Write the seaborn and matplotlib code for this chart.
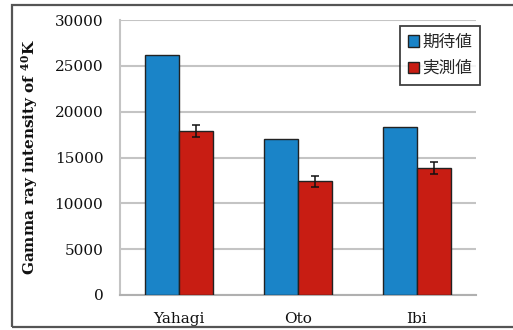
import matplotlib
matplotlib.use("Agg")
import matplotlib.pyplot as plt
from matplotlib.patches import Rectangle
import numpy as np
import pandas as pd
import seaborn as sns

# Data
rivers = ["Yahagi", "Oto", "Ibi"]
series = ["期待値", "実測値"]
expected = [26200, 17000, 18350]
measured = [17900, 12400, 13850]
measured_err = [650, 600, 650]
yticks = [0, 5000, 10000, 15000, 20000, 25000, 30000]

colors = ["#1a84c8", "#c81d13"]

sns.set_theme(style="white")
plt.rcParams["font.family"] = ["DejaVu Serif"]
plt.rcParams["mathtext.fontset"] = "dejavuserif"

df = pd.DataFrame({
    "river": rivers * 2,
    "kind": [series[0]] * 3 + [series[1]] * 3,
    "value": expected + measured,
})

fig = plt.figure(figsize=(5.13, 3.30), dpi=100)
ax = fig.add_axes([120 / 513, 1 - 295 / 330, 356 / 513, 275 / 330])

sns.barplot(data=df, x="river", y="value", hue="kind", order=rivers,
            hue_order=series, palette=colors, width=0.572, gap=0,
            errorbar=None, edgecolor="#222222", linewidth=1.0, saturation=1,
            ax=ax, zorder=3)

# error bars on the measured series
meas_bars = ax.containers[1]
xc = [b.get_x() + b.get_width() / 2 for b in meas_bars]
ax.errorbar(xc, measured, yerr=measured_err, fmt="none", ecolor="#111111",
            elinewidth=1.1, capsize=3.2, capthick=1.1, zorder=4)

ax.set_xlim(-0.5, 2.5)
ax.set_ylim(0, 30000)
ax.set_yticks(yticks)
ax.set_yticklabels([str(v) for v in yticks])
ax.yaxis.grid(True, color="#c4c4c4", linewidth=1.5, zorder=0)
ax.set_axisbelow(True)
ax.tick_params(axis="y", length=0, pad=12, labelsize=11, colors="#111111")
ax.tick_params(axis="x", length=0, pad=12, labelsize=11, colors="#111111")
ax.set_xlabel("")
ax.set_ylabel(r"Gamma ray intensity of $^{\mathbf{40}}$K", fontsize=11,
              fontweight="bold", color="#111111")
ax.yaxis.set_label_coords(-0.226, 0.5)

for side in ["top", "right"]:
    ax.spines[side].set_visible(False)
ax.spines["left"].set_color("#c4c4c4")
ax.spines["left"].set_linewidth(1.5)
ax.spines["bottom"].set_color("#b0b0b0")
ax.spines["bottom"].set_linewidth(1.5)

leg = ax.legend(loc="upper right", bbox_to_anchor=(1.012, 0.98),
                prop={"family": ["Noto Sans CJK JP"], "size": 12},
                frameon=True, fancybox=False, edgecolor="#111111",
                handlelength=0.65, handleheight=0.65, handletextpad=0.2,
                borderpad=0.5, labelspacing=0.55, borderaxespad=0)
leg.get_frame().set_linewidth(1.3)
for h in leg.legend_handles:
    h.set_edgecolor("#222222")
    h.set_linewidth(1.0)

# outer frame around the figure
fig.add_artist(Rectangle((12 / 513, 3 / 330), 1.2, 322 / 330,
                         transform=fig.transFigure, facecolor="none",
                         edgecolor="#555555", linewidth=1.6, zorder=11,
                         clip_on=False))

fig.savefig("out.png", dpi=100)
